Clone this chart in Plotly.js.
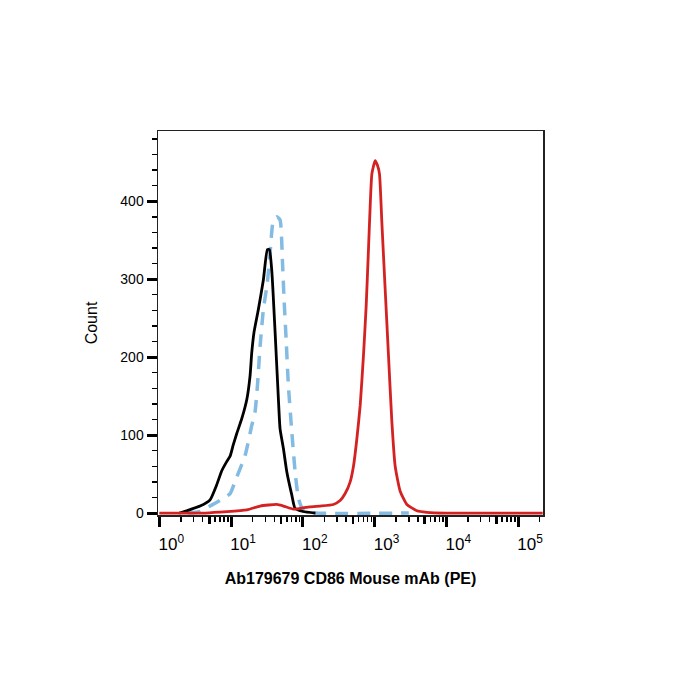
<!DOCTYPE html>
<html>
<head>
<meta charset="utf-8">
<script src="https://cdn.plot.ly/plotly-3.0.1.min.js"></script>
<style>html,body{margin:0;padding:0;background:#fff;}#chart{width:700px;height:700px;}</style>
</head>
<body>
<div id="chart"></div>
<script>
// Black histogram (unstained / control)
const blackX = [1.9, 2.41, 3.7, 5.1, 6.3, 7.4, 8.7, 9.7, 10.7, 12.0, 14.1, 16.6, 18.4, 19.4, 20.9, 24.0, 28.2, 32.1, 34.2, 37.0, 41.1, 45.7, 48.2, 53.6, 59.8, 70.3, 78.1, 101, 150];
const blackY = [0, 3, 9, 17, 36, 54, 66, 73, 87, 102, 121, 146, 176, 205, 232, 261, 299, 338, 338, 310, 232, 146, 108, 83, 53, 23, 6, 2, 0];

// Blue dashed histogram (isotype control)
const blueX = [2.5, 3.7, 5.1, 9.7, 11.4, 15.7, 19.4, 21.6, 23.3, 25.4, 28.2, 32.1, 35.0, 38.9, 43.4, 48.2, 51.9, 54.8, 58.5, 63.0, 70.3, 78.1, 86.9, 102, 150, 3000];
const blueY = [0, 2, 9, 25, 41, 74, 112, 130, 163, 214, 261, 296, 334, 376, 380, 376, 325, 274, 223, 163, 104, 53, 19, 3, 0, 0];

// Red histogram (CD86 PE stained)
const redX = [1.0, 4.4, 16.6, 25.4, 43.4, 53.6, 74, 91.7, 126, 174, 267, 331, 389, 457, 508, 566, 630, 700, 763, 822, 868, 917, 1019, 1097, 1170, 1264, 1405, 1563, 1742, 1937, 2274, 2820, 3890, 5360, 10000, 220000];
const redY = [0, 0, 4, 9, 11, 9, 5, 6, 8, 9, 11, 16, 25, 40, 60, 95, 138, 202, 265, 338, 393, 435, 452, 446, 435, 372, 287, 202, 117, 60, 28, 11, 3, 1, 0, 0];

const xTickVals = [1, 10, 100, 1000, 10000, 100000];
const xTickText = ['10<sup>0</sup>', '10<sup>1</sup>', '10<sup>2</sup>', '10<sup>3</sup>', '10<sup>4</sup>', '10<sup>5</sup>'];
const xMidTickVals = [5, 50, 500, 5000, 50000];
const yTickVals = [0, 100, 200, 300, 400];

const xTitle = 'Ab179679 CD86 Mouse mAb (PE)';
const yTitle = 'Count';

const font = 'Arial, "Liberation Sans", sans-serif';

const traces = [
  {x: blueX, y: blueY, type: 'scatter', mode: 'lines', line: {color: '#84bbe3', width: 3.5, dash: '13px,9px', shape: 'spline', smoothing: 0.5}, hoverinfo: 'skip'},
  {x: blackX, y: blackY, type: 'scatter', mode: 'lines', line: {color: '#000000', width: 2.8, shape: 'spline', smoothing: 0.5}, hoverinfo: 'skip'},
  {x: redX, y: redY, type: 'scatter', mode: 'lines', line: {color: '#d42222', width: 2.8, shape: 'spline', smoothing: 0.5}, hoverinfo: 'skip'},
  {x: xMidTickVals, y: xMidTickVals.map(() => null), xaxis: 'x2', type: 'scatter', mode: 'lines', hoverinfo: 'skip'}
];

const layout = {
  width: 700, height: 700,
  paper_bgcolor: '#fff', plot_bgcolor: '#fff',
  showlegend: false,
  margin: {l: 158, r: 157, t: 131, b: 185, pad: 0},
  font: {family: font, color: '#000', size: 14},
  xaxis: {
    type: 'log', range: [-0.018, 5.347], autorange: false,
    tickmode: 'array', tickvals: xTickVals, ticktext: xTickText,
    ticks: 'outside', ticklen: 10, tickwidth: 3, tickcolor: '#000',
    ticklabelshift: 12, ticklabelstandoff: 3,
    tickfont: {family: font, size: 17, color: '#000'},
    minor: {ticks: 'outside', dtick: 'D1', ticklen: 5, tickwidth: 1.5, tickcolor: '#000', showgrid: false},
    showgrid: false, zeroline: false,
    showline: true, mirror: true, linecolor: '#222', linewidth: 1.5,
    title: {text: xTitle, font: {family: font, size: 16, color: '#000', weight: 'bold'}, standoff: 20}
  },
  xaxis2: {
    type: 'log', range: [-0.018, 5.347], autorange: false, overlaying: 'x', side: 'bottom',
    tickmode: 'array', tickvals: xMidTickVals, showticklabels: false,
    ticks: 'outside', ticklen: 8, tickwidth: 2.5, tickcolor: '#000',
    showgrid: false, zeroline: false, showline: false
  },
  yaxis: {
    range: [-2.5, 490], autorange: false,
    tickmode: 'array', tickvals: yTickVals,
    ticks: 'outside', ticklen: 10, tickwidth: 3, tickcolor: '#000',
    tickfont: {family: font, size: 14, color: '#000'},
    minor: {ticks: 'outside', dtick: 20, ticklen: 5, tickwidth: 1.5, tickcolor: '#000', showgrid: false},
    showgrid: false, zeroline: false,
    showline: true, mirror: true, linecolor: '#222', linewidth: 1.5,
    title: {text: yTitle, font: {family: font, size: 16, color: '#000'}, standoff: 18}
  }
};

Plotly.newPlot('chart', traces, layout, {staticPlot: true, displayModeBar: false});
</script>
</body>
</html>
